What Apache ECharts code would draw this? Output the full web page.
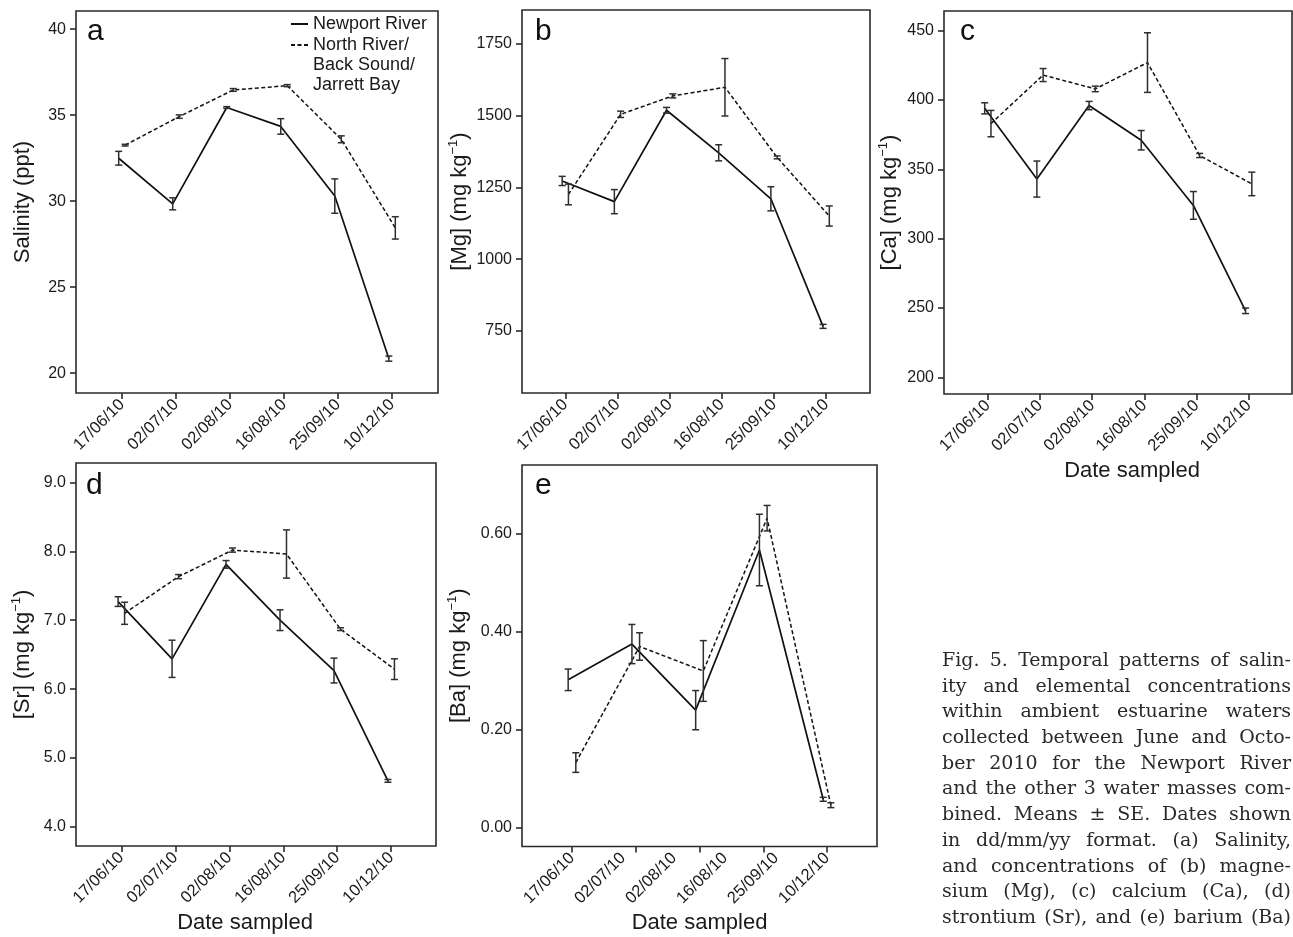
<!DOCTYPE html>
<html><head><meta charset="utf-8">
<script src="https://cdn.jsdelivr.net/npm/echarts@6/dist/echarts.min.js"></script>
<style>html,body{margin:0;padding:0;background:#fff}#c{width:1293px;height:937px}</style>
</head><body><div id="c"></div><script>
// ---------------- data ----------------
const dates = ['17/06/10', '02/07/10', '02/08/10', '16/08/10', '25/09/10', '10/12/10'];
const seriesNames = ['Newport River', 'North River/\nBack Sound/\nJarrett Bay'];

const salNewport   = [32.5, 29.85, 35.45, 34.35, 30.3, 20.85];
const salNewportSE = [0.4, 0.35, 0.05, 0.45, 1.0, 0.15];
const salNorth     = [33.26, 34.92, 36.47, 36.72, 33.6, 28.45];
const salNorthSE   = [0.05, 0.1, 0.08, 0.06, 0.2, 0.65];

const mgNewport    = [1272, 1200, 1518, 1370, 1210, 766];
const mgNewportSE  = [16, 42, 10, 28, 42, 7];
const mgNorth      = [1225, 1504, 1568, 1598, 1354, 1150];
const mgNorthSE    = [36, 11, 7, 100, 5, 35];

const caNewport    = [394, 343, 396, 371, 324, 248];
const caNewportSE  = [4, 13, 3, 7, 10, 2];
const caNorth      = [383, 418, 408, 427, 360, 339.5];
const caNorthSE    = [9.5, 4.7, 2, 21.5, 1.5, 8.5];

const srNewport    = [7.27, 6.44, 7.81, 7.0, 6.27, 4.67];
const srNewportSE  = [0.07, 0.27, 0.055, 0.15, 0.18, 0.02];
const srNorth      = [7.1, 7.632, 8.017, 7.96, 6.87, 6.29];
const srNorthSE    = [0.16, 0.03, 0.03, 0.35, 0.02, 0.15];

// panel e: five sampling points drawn, six date labels printed
const baNewport    = [0.302, 0.375, 0.24, 0.567, 0.058];
const baNewportSE  = [0.022, 0.04, 0.04, 0.073, 0.004];
const baNorth      = [0.133, 0.37, 0.32, 0.632, 0.046];
const baNorthSE    = [0.02, 0.028, 0.062, 0.026, 0.005];

const salTicks = [20, 25, 30, 35, 40];
const mgTicks  = [750, 1000, 1250, 1500, 1750];
const caTicks  = [200, 250, 300, 350, 400, 450];
const srTicks  = [4, 5, 6, 7, 8, 9];
const baTicks  = [0, 0.2, 0.4, 0.6];

const captionLines = [
  'Fig. 5. Temporal patterns of salin-',
  'ity and elemental concentrations',
  'within ambient estuarine waters',
  'collected between June and Octo-',
  'ber 2010 for the Newport River',
  'and the other 3 water masses com-',
  'bined. Means \u00b1 SE. Dates shown',
  'in dd/mm/yy format. (a) Salinity,',
  'and concentrations of (b) magne-',
  'sium (Mg), (c) calcium (Ca), (d)',
  'strontium (Sr), and (e) barium (Ba)'
];

// ---------------- styles / layout ----------------
const SANS = '"Liberation Sans", Arial, Helvetica, sans-serif';
const SERIF = '"DejaVu Serif", "Liberation Serif", serif';
const INK = '#1a1a1a';
const DODGE = 0.06;

const panels = [
  { letter: 'a', grid: { left: 76, top: 11, width: 362, height: 382 }, xr: [-0.85, 5.85], yr: [18.85, 41.06],
    ticks: salTicks, dec: 0, yname: 'Salinity (ppt)', ygap: 40, xname: '', xgap: 0, xpad: [0, 0, 0, 0], letterPos: [87, 17],
    a: salNewport, aSE: salNewportSE, b: salNorth, bSE: salNorthSE, n: 6 },
  { letter: 'b', grid: { left: 522, top: 10, width: 348, height: 383 }, xr: [-0.83, 5.84], yr: [534, 1867],
    ticks: mgTicks, dec: 0, yname: '[Mg] (mg kg{sup|\u22121})', ygap: 49, xname: '', xgap: 0, xpad: [0, 0, 0, 0], letterPos: [535, 17],
    a: mgNewport, aSE: mgNewportSE, b: mgNorth, bSE: mgNorthSE, n: 6 },
  { letter: 'c', grid: { left: 944, top: 11, width: 348, height: 383 }, xr: [-0.84, 5.83], yr: [188, 464.2],
    ticks: caTicks, dec: 0, yname: '[Ca] (mg kg{sup|\u22121})', ygap: 36, xname: 'Date sampled', xgap: 64, xpad: [0, 0, 0, 28], letterPos: [960, 17],
    a: caNewport, aSE: caNewportSE, b: caNorth, bSE: caNorthSE, n: 6 },
  { letter: 'd', grid: { left: 76, top: 463, width: 360, height: 385 }, xr: [-0.84, 5.83], yr: [3.725, 9.28],
    ticks: srTicks, dec: 1, yname: '[Sr] (mg kg{sup|\u22121})', ygap: 40, xname: 'Date sampled', xgap: 64, xpad: [0, 22, 0, 0], letterPos: [86, 471],
    a: srNewport, aSE: srNewportSE, b: srNorth, bSE: srNorthSE, n: 6 },
  { letter: 'e', grid: { left: 522, top: 465, width: 355, height: 384 }, xr: [-0.784, 4.784], yr: [-0.0385, 0.7406],
    ticks: baTicks, dec: 2, yname: '[Ba] (mg kg{sup|\u22121})', ygap: 50, xname: 'Date sampled', xgap: 58, xpad: [0, 0, 0, 0], letterPos: [535, 471],
    a: baNewport, aSE: baNewportSE, b: baNorth, bSE: baNorthSE, n: 5 }
];

function errRender(params, api) {
  const x = api.value(0), m = api.value(1), se = api.value(2);
  const t = api.coord([x, m + se]);
  const b = api.coord([x, m - se]);
  const hw = 3.5;
  const st = { stroke: '#2e2e2e', lineWidth: 1.5 };
  return { type: 'group', children: [
    { type: 'line', shape: { x1: t[0], y1: t[1], x2: b[0], y2: b[1] }, style: st },
    { type: 'line', shape: { x1: t[0] - hw, y1: t[1], x2: t[0] + hw, y2: t[1] }, style: st },
    { type: 'line', shape: { x1: b[0] - hw, y1: b[1], x2: b[0] + hw, y2: b[1] }, style: st }
  ]};
}

const grid = [], xAxis = [], yAxis = [], series = [], title = [];
panels.forEach((p, i) => {
  grid.push(Object.assign({ show: true, borderColor: '#2a2a2a', borderWidth: 1.6, backgroundColor: 'transparent' }, p.grid));
  const posIdx = Array.from({ length: p.n }, (_, k) => k);
  const labelStep = (p.n - 1) / (dates.length - 1);
  const labelVals = dates.map((_, k) => +(k * labelStep).toFixed(4));
  xAxis.push({
    gridIndex: i, type: 'value', min: p.xr[0], max: p.xr[1], position: 'bottom',
    axisLine: { show: false, onZero: false }, splitLine: { show: false },
    axisTick: { show: true, inside: false, length: 6, customValues: posIdx, lineStyle: { color: '#2a2a2a', width: 1.6 } },
    axisLabel: { show: true, customValues: labelVals, rotate: 45, margin: 9, fontSize: 16.5, fontFamily: SANS, color: INK,
      formatter: v => dates[Math.round(v / labelStep)] },
    name: p.xname, nameLocation: 'middle', nameGap: p.xgap,
    nameTextStyle: { fontSize: 22, fontFamily: SANS, color: INK, lineHeight: 26, padding: p.xpad }
  });
  yAxis.push({
    gridIndex: i, type: 'value', min: p.yr[0], max: p.yr[1], position: 'left',
    axisLine: { show: false, onZero: false }, splitLine: { show: false },
    axisTick: { show: true, inside: false, length: 6, customValues: p.ticks, lineStyle: { color: '#2a2a2a', width: 1.6 } },
    axisLabel: { show: true, customValues: p.ticks, margin: 10, fontSize: 16, fontFamily: SANS, color: INK,
      formatter: v => v.toFixed(p.dec) },
    name: p.yname, nameLocation: 'middle', nameRotate: 90, nameGap: p.ygap,
    nameTextStyle: { fontSize: 22, fontFamily: SANS, color: INK, lineHeight: 26,
      rich: { sup: { fontSize: 13, fontFamily: SANS, color: INK, verticalAlign: 'top', lineHeight: 26 } } }
  });
  title.push({ text: p.letter, left: p.letterPos[0], top: p.letterPos[1], padding: 0,
    textStyle: { fontSize: 30, fontWeight: 'normal', fontFamily: SANS, color: '#111' } });

  const lineA = p.a.map((v, k) => [k - DODGE, v]);
  const lineB = p.b.map((v, k) => [k + DODGE, v]);
  series.push({ name: seriesNames[0], type: 'line', xAxisIndex: i, yAxisIndex: i, data: lineA, symbol: 'none',
    lineStyle: { color: '#111', width: 1.7, type: 'solid' }, itemStyle: { color: '#111' }, z: 2, animation: false });
  series.push({ name: seriesNames[1], type: 'line', xAxisIndex: i, yAxisIndex: i, data: lineB, symbol: 'none',
    lineStyle: { color: '#111', width: 1.5, type: [4, 2.5] }, itemStyle: { color: '#111' }, z: 2, animation: false });
  series.push({ type: 'custom', xAxisIndex: i, yAxisIndex: i, renderItem: errRender, z: 3, animation: false,
    encode: { x: 0, y: 1 }, data: p.a.map((v, k) => [k - DODGE, v, p.aSE[k]]) });
  series.push({ type: 'custom', xAxisIndex: i, yAxisIndex: i, renderItem: errRender, z: 3, animation: false,
    encode: { x: 0, y: 1 }, data: p.b.map((v, k) => [k + DODGE, v, p.bSE[k]]) });
});

// justified caption, word by word
const capLeft = 942, capRight = 1291, capTop = 661, capStep = 25.7;
const capCtx = document.createElement('canvas').getContext('2d');
capCtx.font = '17px ' + SERIF;
const naturalMax = Math.max(...captionLines.map(l => capCtx.measureText(l).width));
const CAP_FONT_SIZE = Math.min(19, 17 * (capRight - capLeft) / naturalMax);
capCtx.font = CAP_FONT_SIZE + 'px ' + SERIF;
const graphic = [];
captionLines.forEach((line, li) => {
  const words = line.split(' ');
  const widths = words.map(w => capCtx.measureText(w).width);
  const total = widths.reduce((s, w) => s + w, 0);
  const gap = words.length > 1 ? (capRight - capLeft - total) / (words.length - 1) : 0;
  let x = capLeft;
  words.forEach((w, wi) => {
    graphic.push({ type: 'text', x: x, y: capTop + li * capStep,
      style: { text: w, fontSize: CAP_FONT_SIZE, fontFamily: SERIF, fill: '#2a2a2a', verticalAlign: 'middle', align: 'left' } });
    x += widths[wi] + gap;
  });
});

const legendBase = { left: 290, orient: 'vertical', itemWidth: 17, itemHeight: 12, padding: 0,
  itemStyle: { opacity: 0 }, textStyle: { fontSize: 18, fontFamily: SANS, color: INK, lineHeight: 20 } };
const option = {
  backgroundColor: '#fff',
  animation: false,
  title: title,
  grid: grid, xAxis: xAxis, yAxis: yAxis, series: series,
  graphic: graphic,
  legend: [
    Object.assign({}, legendBase, { data: [seriesNames[0]], top: 14 }),
    Object.assign({}, legendBase, { data: [seriesNames[1]], top: -5, formatter: n => '\n\n' + n })
  ]
};
const chart = echarts.init(document.getElementById('c'), null, { renderer: 'canvas' });
chart.setOption(option);
</script></body></html>
